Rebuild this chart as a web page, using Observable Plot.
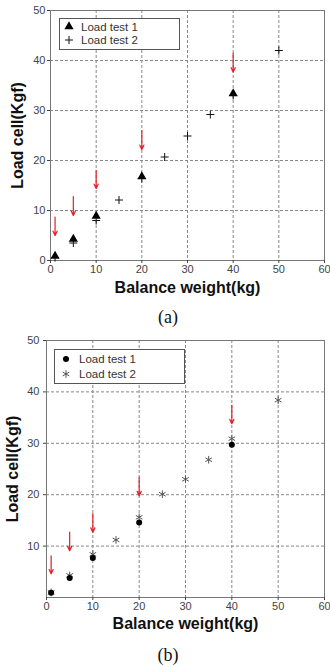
<!DOCTYPE html>
<html>
<head>
<meta charset="utf-8">
<script src="https://cdn.jsdelivr.net/npm/d3@7"></script>
<script src="https://cdn.jsdelivr.net/npm/@observablehq/plot@0.6"></script>
<style>
  html, body { margin: 0; padding: 0; background: #fff; width: 330px; height: 667px; overflow: hidden; }
  .panel { position: absolute; left: 0; width: 330px; }
  .cap { position: absolute; left: 0; width: 336px; text-align: center; font-family: "Liberation Serif", "Times New Roman", serif; font-size: 18px; line-height: 20px; color: #111; }
</style>
</head>
<body>
<div id="pa" class="panel" style="top:0px"></div>
<div class="cap" style="top:307px">(a)</div>
<div id="pb" class="panel" style="top:330px"></div>
<div class="cap" style="top:645px">(b)</div>
<script>
// ---- data ----
const xTicks = [0, 10, 20, 30, 40, 50, 60];
const yTicksA = [0, 10, 20, 30, 40, 50];
const yTicksB = [10, 20, 30, 40, 50];
const gridXTicks = [10, 20, 30, 40, 50];
const gridYTicks = [10, 20, 30, 40];
const seriesNames = ["Load test 1", "Load test 2"];
const xLabel = "Balance weight(kg)";
const yLabel = "Load cell(Kgf)";

// panel (a)
const xA1 = [1, 5, 10, 20, 40];
const yA1 = [0.9, 4.3, 8.9, 16.8, 33.4];
const xA2 = [1, 5, 10, 15, 20, 25, 30, 35, 40, 50];
const yA2 = [0.6, 3.5, 8.0, 12.1, 16.4, 20.7, 24.9, 29.2, 33.0, 42.0];
const arrowXA = [1, 5, 10, 20, 40];
const arrowTopA = [8.7, 12.8, 18.0, 26.0, 41.5];
const arrowTipA = [5.0, 9.0, 14.4, 22.2, 37.7];

// panel (b)
const xB1 = [1, 5, 10, 20, 40];
const yB1 = [0.9, 3.8, 7.7, 14.6, 29.7];
const xB2 = [1, 5, 10, 15, 20, 25, 30, 35, 40, 50];
const yB2 = [1.0, 4.3, 8.4, 11.2, 15.6, 20.1, 23.0, 26.8, 30.9, 38.4];
const arrowXB = [1, 5, 10, 20, 40];
const arrowTopB = [8.1, 12.7, 16.3, 23.4, 37.4];
const arrowTipB = [4.6, 9.1, 12.7, 19.8, 33.8];

const zip = (xs, ys) => xs.map((x, i) => ({x, y: ys[i]}));
const arrows = (xs, t, b) => xs.map((x, i) => ({x, y1: t[i], y2: b[i]}));

function panel(o) {
  const fig = Plot.plot({
    width: 330,
    height: o.height,
    marginTop: 10,
    marginBottom: 40,
    marginLeft: o.marginLeft,
    marginRight: 6,
    style: {fontFamily: "'Liberation Sans', Arial, sans-serif", fontSize: "11px", color: "#444", background: "white", overflow: "visible"},
    x: {domain: [0, 60]},
    y: {domain: [0, 50]},
    marks: [
      Plot.gridX(gridXTicks, {stroke: "#888", strokeOpacity: 1, strokeDasharray: "3,2"}),
      Plot.gridY(gridYTicks, {stroke: "#888", strokeOpacity: 1, strokeDasharray: "3,2"}),
      Plot.frame({stroke: "#777"}),
      Plot.axisX(xTicks, {tickSize: 3, tickPadding: 2, label: null, fontSize: 11}),
      Plot.axisY(o.yTicks, {tickSize: 3, tickPadding: o.yPad, label: null, fontSize: 11}),
      Plot.text([xLabel], {frameAnchor: "bottom", dy: o.xLabDy, text: d => d, fontSize: 16, fontWeight: "bold", fill: "#111", textAnchor: "middle", lineAnchor: "middle"}),
      Plot.text([yLabel], {frameAnchor: "left", dx: o.yLabDx, rotate: -90, text: d => d, fontSize: 16, fontWeight: "bold", fill: "#111", textAnchor: "middle", lineAnchor: "middle"}),
      Plot.dot(o.s2, {x: "x", y: "y", symbol: o.sym2, r: o.r2, stroke: o.c2, strokeWidth: 1, fill: "none"}),
      Plot.dot(o.s1, {x: "x", y: "y", symbol: o.sym1, r: o.r1, fill: "#000", stroke: "none"}),
      Plot.arrow(o.arr, {x1: "x", x2: "x", y1: "y1", y2: "y2", stroke: "#e31e24", strokeWidth: 1.2, headLength: 6, headAngle: 50})
    ]
  });
  // legend box
  const svg = d3.select(fig);
  const g = svg.append("g").attr("text-anchor", "start")
    .attr("transform", `translate(${o.marginLeft + o.lg.dx},${10 + o.lg.dy})`);
  g.append("rect").attr("x", 0.5).attr("y", 0.5).attr("width", o.lg.w).attr("height", o.lg.h)
    .attr("fill", "white").attr("stroke", "#555").attr("stroke-width", 1);
  const syms = [
    {type: o.sym1d3, size: Math.PI * o.r1 * o.r1, fill: "#000", stroke: "none"},
    {type: o.sym2d3, size: Math.PI * o.r2 * o.r2, fill: "none", stroke: o.c2}
  ];
  seriesNames.forEach((name, i) => {
    const yy = o.lg.row0 + i * o.lg.rowGap;
    g.append("path").attr("transform", `translate(${o.lg.symX},${yy})`)
      .attr("d", d3.symbol(syms[i].type, syms[i].size)())
      .attr("fill", syms[i].fill).attr("stroke", syms[i].stroke).attr("stroke-width", 1);
    g.append("text").attr("x", o.lg.textX).attr("y", yy).attr("dy", "0.35em")
      .attr("text-anchor", "start")
      .attr("fill", "#333").attr("font-size", 11.5).text(name);
  });
  return fig;
}

document.getElementById("pa").append(panel({
  height: 300, marginLeft: 50, yTicks: yTicksA, yPad: 2, xLabDy: 27, yLabDx: -33,
  s1: zip(xA1, yA1), s2: zip(xA2, yA2), arr: arrows(arrowXA, arrowTopA, arrowTipA),
  sym1: "triangle", sym1d3: d3.symbolTriangle, r1: 3.4,
  sym2: "plus", sym2d3: d3.symbolPlus, r2: 2.7, c2: "#111",
  lg: {dx: 9, dy: 8, w: 120, h: 31, row0: 8.5, rowGap: 13.5, symX: 10, textX: 22}
}));

document.getElementById("pb").append(panel({
  height: 307, marginLeft: 46, yTicks: yTicksB, yPad: 4, xLabDy: 26, yLabDx: -34,
  s1: zip(xB1, yB1), s2: zip(xB2, yB2), arr: arrows(arrowXB, arrowTopB, arrowTipB),
  sym1: "circle", sym1d3: d3.symbolCircle, r1: 3,
  sym2: "asterisk", sym2d3: d3.symbolAsterisk, r2: 3.6, c2: "#555",
  lg: {dx: 8, dy: 9, w: 130, h: 34, row0: 10, rowGap: 15, symX: 12, textX: 25}
}));
</script>
</body>
</html>
